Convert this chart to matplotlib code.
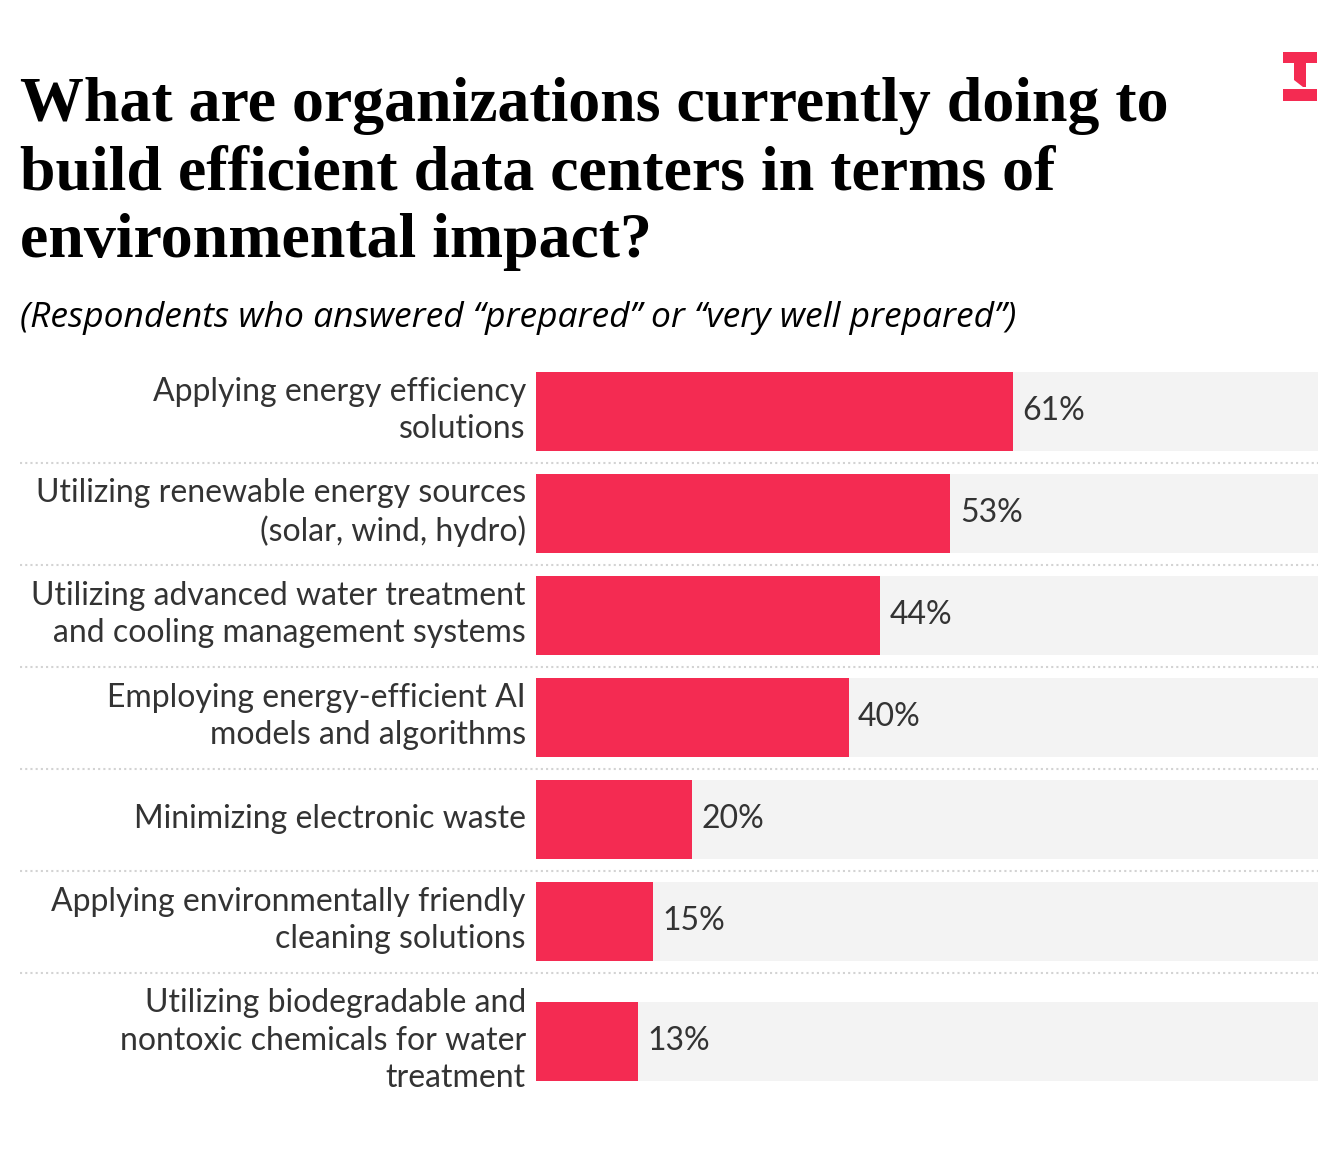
import matplotlib.pyplot as plt
from matplotlib.patches import Rectangle, Polygon

labels = [
    "Applying energy efficiency\nsolutions",
    "Utilizing renewable energy sources\n(solar, wind, hydro)",
    "Utilizing advanced water treatment\nand cooling management systems",
    "Employing energy-efficient AI\nmodels and algorithms",
    "Minimizing electronic waste",
    "Applying environmentally friendly\ncleaning solutions",
    "Utilizing biodegradable and\nnontoxic chemicals for water\ntreatment",
]
values = [61, 53, 44, 40, 20, 15, 13]

RED = "#F42B52"
GREY_BG = "#F3F3F3"
TEXT = "#333333"

W, H = 1340, 1170
fig = plt.figure(figsize=(W / 100, H / 100), dpi=100)
fig.patch.set_facecolor("white")

# axes area in pixels: x 536..1318, y 372..1081 (from top)
ax = fig.add_axes([536 / W, 1 - 1081 / H, 782 / W, 709 / H])
ax.set_xlim(0, 100)
ax.set_ylim(709, 0)
ax.axis("off")

bar_h = 79
pitch = 102
centres = []
y = 0
for i, lab in enumerate(labels):
    extra = 18 * max(0, lab.count("\n") - 1)
    y += extra
    centres.append(y + bar_h / 2)
    y += pitch

ax.barh(centres, [100] * len(values), height=bar_h, color=GREY_BG, left=0)
ax.barh(centres, values, height=bar_h, color=RED)

for c, v, lab in zip(centres, values, labels):
    ax.text(v + 1.2, c, f"{v}%", va="center", ha="left", fontsize=23,
            color=TEXT, family="Lato")
    ax.text(-1.3, c - 1, lab, va="center", ha="right", fontsize=23, color=TEXT,
            family="Lato", linespacing=1.32)

# dotted separators between rows
for i in range(len(centres) - 1):
    sep = centres[i] + bar_h / 2 + 12
    ax.plot([(20 - 536) / 782, 1], [sep, sep], transform=ax.get_yaxis_transform(),
            color="#D3D3D3", lw=1.5, ls=(0, (1, 1.5)), clip_on=False)

fig.text(20 / W, 1 - 174 / H,
         "What are organizations currently doing to\nbuild efficient data centers in terms of\nenvironmental impact?",
         fontsize=46, fontweight="bold", family="Liberation Serif", color="black",
         va="center", ha="left", linespacing=1.22)
fig.text(20 / W, 1 - 318 / H,
         "(Respondents who answered \u201cprepared\u201d or \u201cvery well prepared\u201d)",
         fontsize=25.5, style="italic", family="Open Sans", color="black",
         va="center", ha="left")

# logo
def px(x, y):
    return (x / W, 1 - y / H)

fig.patches.append(Rectangle(px(1283, 63), 34 / W, 11 / H, transform=fig.transFigure,
                             color=RED, lw=0))
fig.patches.append(Rectangle(px(1283, 101), 34 / W, 12 / H, transform=fig.transFigure,
                             color=RED, lw=0))
fig.patches.append(Polygon([px(1294, 62), px(1306, 62), px(1306, 87), px(1303, 87),
                            px(1294, 80)], closed=True, transform=fig.transFigure,
                           color=RED, lw=0))

fig.savefig("out.png", dpi=100, facecolor="white")
